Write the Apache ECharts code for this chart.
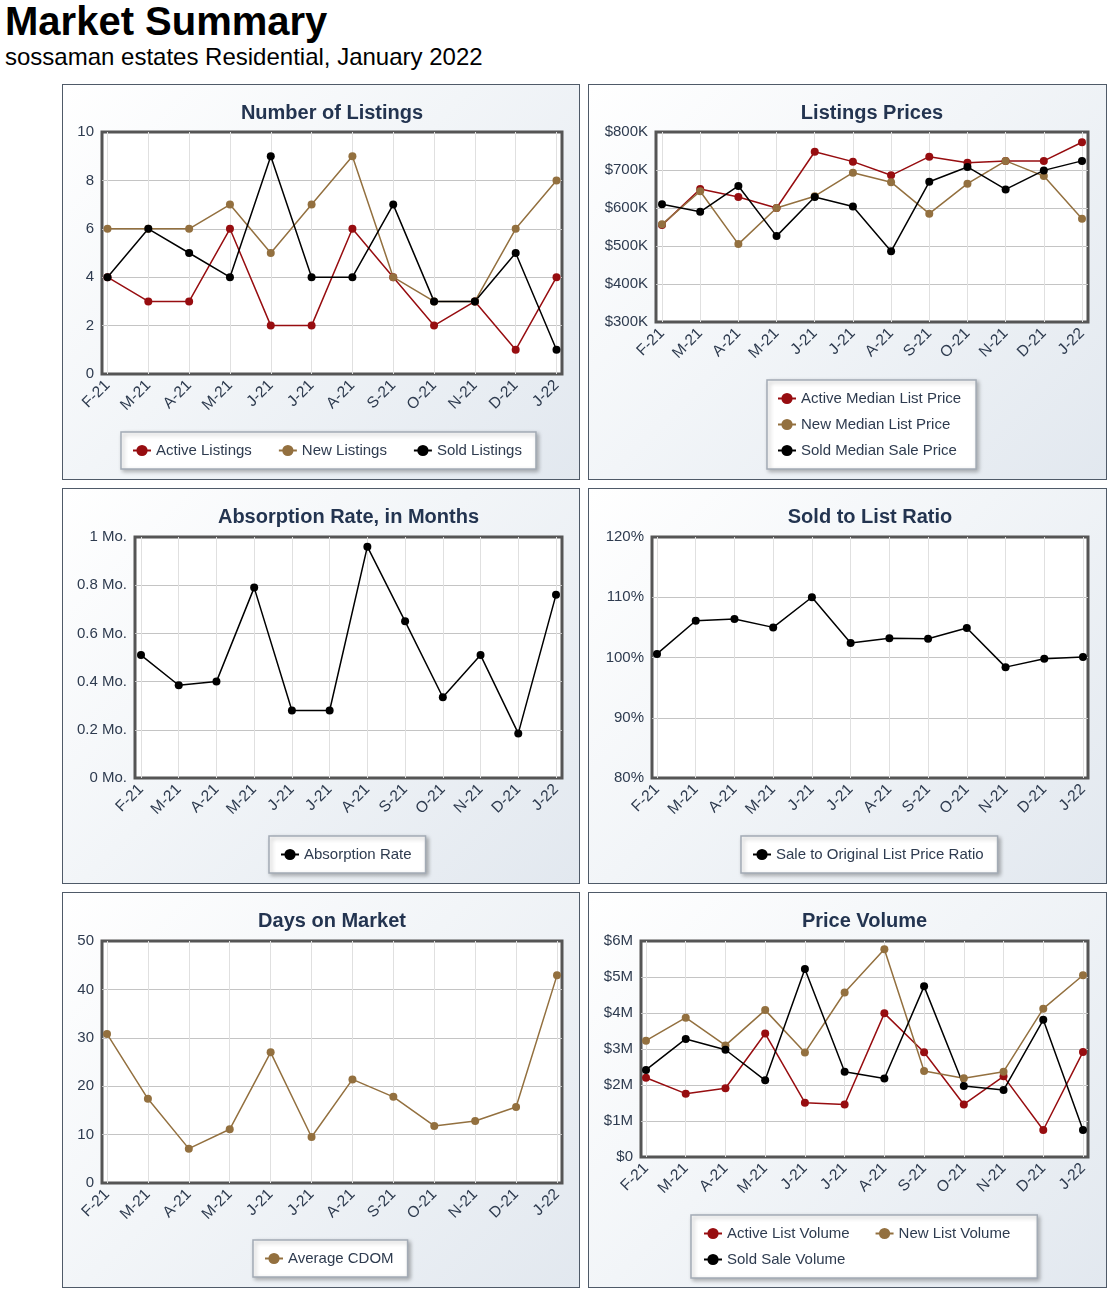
<!DOCTYPE html>
<html>
<head>
<meta charset="utf-8">
<script src="https://cdn.jsdelivr.net/npm/echarts@6/dist/echarts.min.js"></script>
<style>
  html, body { margin: 0; padding: 0; background: #ffffff; }
  body { width: 1115px; height: 1295px; position: relative; overflow: hidden;
         font-family: "Liberation Sans", Arial, Helvetica, sans-serif; }
  #pageTitle { position: absolute; left: 5px; top: 1px; font-size: 40px; line-height: 40px;
               font-weight: bold; color: #000; white-space: nowrap; }
  #pageSub { position: absolute; left: 5px; top: 45px; font-size: 24px; line-height: 24px;
             color: #000; white-space: nowrap; }
  .panel { position: absolute; box-sizing: border-box; border: 1px solid #4f5a68;
           background: linear-gradient(135deg, #ffffff 0%, #f2f5f8 45%, #e2e8ef 100%); }
  .chart { position: absolute; left: -1px; top: -1px; }
</style>
</head>
<body>
<div id="pageTitle">Market Summary</div>
<div id="pageSub">sossaman estates Residential, January 2022</div>

<div class="panel" style="left:62px;top:84px;width:518px;height:396px;"><div id="c1" class="chart" style="width:518px;height:396px;"></div></div>
<div class="panel" style="left:588px;top:84px;width:519px;height:396px;"><div id="c2" class="chart" style="width:519px;height:396px;"></div></div>
<div class="panel" style="left:62px;top:488px;width:518px;height:396px;"><div id="c3" class="chart" style="width:518px;height:396px;"></div></div>
<div class="panel" style="left:588px;top:488px;width:519px;height:396px;"><div id="c4" class="chart" style="width:519px;height:396px;"></div></div>
<div class="panel" style="left:62px;top:892px;width:518px;height:396px;"><div id="c5" class="chart" style="width:518px;height:396px;"></div></div>
<div class="panel" style="left:588px;top:892px;width:519px;height:396px;"><div id="c6" class="chart" style="width:519px;height:396px;"></div></div>

<script>
// ---------------- DATA ----------------
const categories = ['F-21','M-21','A-21','M-21','J-21','J-21','A-21','S-21','O-21','N-21','D-21','J-22'];

// Number of Listings
const activeListings = [4, 3, 3, 6, 2, 2, 6, 4, 2, 3, 1, 4];
const newListings    = [6, 6, 6, 7, 5, 7, 9, 4, 3, 3, 6, 8];
const soldListings   = [4, 6, 5, 4, 9, 4, 4, 7, 3, 3, 5, 1];

// Listings Prices (dollars)
const activeMedianListPrice = [555000, 650000, 629000, 600000, 748000, 722000, 686000, 735000, 719000, 724000, 724000, 773000];
const newMedianListPrice    = [557000, 644000, 505000, 600000, 631000, 693000, 668000, 585000, 664000, 724000, 684000, 572000];
const soldMedianSalePrice   = [610000, 590000, 658000, 526000, 629000, 604000, 486000, 669000, 708000, 649000, 699000, 724000];

// Absorption Rate (months)
const absorptionRate = [0.51, 0.385, 0.40, 0.79, 0.28, 0.28, 0.96, 0.65, 0.335, 0.51, 0.185, 0.76];

// Sold to List Ratio (%)
const saleToOriginalListRatio = [100.6, 106.1, 106.4, 105.0, 110.0, 102.4, 103.2, 103.1, 104.9, 98.4, 99.8, 100.1];

// Days on Market
const averageCDOM = [30.8, 17.4, 7.1, 11.1, 27.0, 9.5, 21.4, 17.8, 11.8, 12.8, 15.7, 42.9];

// Price Volume (dollars)
const activeListVolume = [2200000, 1760000, 1910000, 3430000, 1510000, 1460000, 3990000, 2910000, 1460000, 2240000, 750000, 2920000];
const newListVolume    = [3230000, 3870000, 3100000, 4080000, 2900000, 4570000, 5770000, 2390000, 2190000, 2370000, 4120000, 5050000];
const soldSaleVolume   = [2420000, 3280000, 2980000, 2130000, 5220000, 2370000, 2180000, 4740000, 1970000, 1860000, 3810000, 750000];

// Axis ranges
const listingsAxis   = { min: 0, max: 10, interval: 2 };
const pricesAxis     = { min: 300000, max: 800000, interval: 100000 };
const absorptionAxis = { min: 0, max: 1, interval: 0.2 };
const ratioAxis      = { min: 80, max: 120, interval: 10 };
const domAxis        = { min: 0, max: 50, interval: 10 };
const volumeAxis     = { min: 0, max: 6000000, interval: 1000000 };

// ---------------- STYLE ----------------
const FONT = '"Liberation Sans", Arial, Helvetica, sans-serif';
const RED = '#970d10';
const TAN = '#93703f';
const BLACK = '#000000';
const AXIS_TEXT = '#2e3b4f';
const TITLE_TEXT = '#233450';

function fmtNum(v) { return String(Math.round(v * 1000) / 1000); }

function legendBase(extra) {
  return Object.assign({
    orient: 'horizontal',
    itemWidth: 18, itemHeight: 14, itemGap: 26,
    padding: [11, 14, 11, 11],
    backgroundColor: '#ffffff',
    borderColor: '#a3abb5', borderWidth: 1.5,
    shadowBlur: 4, shadowOffsetX: 2, shadowOffsetY: 2, shadowColor: 'rgba(0,0,0,0.28)',
    textStyle: { fontSize: 15, color: AXIS_TEXT, fontFamily: FONT },
    selectedMode: false
  }, extra || {});
}

function buildOption(c) {
  const f = c.frame;
  const legends = c.legends || [legendBase(Object.assign({ left: c.legendLeft, top: c.legendTop }, c.legend || {}))];
  return {
    animation: false,
    textStyle: { fontFamily: FONT },
    title: {
      text: c.title, left: c.titleX, top: 19, textAlign: 'center', padding: 0,
      textStyle: { fontSize: 20, fontWeight: 'bold', color: TITLE_TEXT, fontFamily: FONT }
    },
    legend: legends,
    grid: [
      { left: f.l, top: f.t, right: f.r, bottom: f.b, show: true, backgroundColor: '#ffffff',
        borderColor: '#555555', borderWidth: 3, containLabel: false },
      { left: f.l + c.pad, top: f.t, right: f.r + c.pad, bottom: f.b, containLabel: false }
    ],
    xAxis: [
      { gridIndex: 0, type: 'value', min: 0, max: 1, show: false },
      { gridIndex: 1, type: 'category', data: categories, boundaryGap: false, z: 1,
        axisLine: { show: false }, axisTick: { show: false },
        splitLine: { show: true, lineStyle: { color: '#e0e0e0', width: 1 } },
        axisLabel: { rotate: 45, interval: 0, margin: 9, fontSize: 15.5, color: AXIS_TEXT, fontFamily: FONT } }
    ],
    yAxis: [
      { gridIndex: 0, type: 'value', min: c.y.min, max: c.y.max, interval: c.y.interval, z: 1,
        axisLine: { show: false }, axisTick: { show: false },
        axisLabel: { formatter: c.y.fmt, margin: 8, fontSize: 15, color: AXIS_TEXT, fontFamily: FONT },
        splitLine: { show: true, showMinLine: false, showMaxLine: false, lineStyle: { color: '#c4c4c4', width: 1 } } },
      { gridIndex: 1, type: 'value', min: c.y.min, max: c.y.max, interval: c.y.interval, show: false,
        splitLine: { show: false } }
    ],
    series: c.series.map(s => ({
      type: 'line', name: s.name, data: s.data,
      xAxisIndex: 1, yAxisIndex: 1,
      symbol: 'circle', symbolSize: 8, showSymbol: true,
      color: s.color,
      lineStyle: { width: 1.5, color: s.color },
      itemStyle: { color: s.color }
    }))
  };
}

const panels = [
  { id: 'c1', title: 'Number of Listings', titleX: 270, pad: 5.5,
    frame: { l: 40, t: 48, r: 18, b: 106 },
    y: Object.assign({ fmt: v => fmtNum(v) }, listingsAxis),
    legendLeft: 59, legendTop: 348,
    series: [
      { name: 'Active Listings', data: activeListings, color: RED },
      { name: 'New Listings', data: newListings, color: TAN },
      { name: 'Sold Listings', data: soldListings, color: BLACK }
    ] },
  { id: 'c2', title: 'Listings Prices', titleX: 284, pad: 6,
    frame: { l: 68, t: 48, r: 19, b: 158 },
    y: Object.assign({ fmt: v => '$' + fmtNum(v / 1000) + 'K' }, pricesAxis),
    legendLeft: 179, legendTop: 296,
    legend: { orient: 'vertical', itemGap: 11, padding: [11, 15, 11, 10] },
    series: [
      { name: 'Active Median List Price', data: activeMedianListPrice, color: RED },
      { name: 'New Median List Price', data: newMedianListPrice, color: TAN },
      { name: 'Sold Median Sale Price', data: soldMedianSalePrice, color: BLACK }
    ] },
  { id: 'c3', title: 'Absorption Rate, in Months', titleX: 286.5, pad: 6,
    frame: { l: 73, t: 49, r: 18, b: 106 },
    y: Object.assign({ fmt: v => fmtNum(v) + ' Mo.' }, absorptionAxis),
    legendLeft: 207, legendTop: 348,
    series: [
      { name: 'Absorption Rate', data: absorptionRate, color: BLACK }
    ] },
  { id: 'c4', title: 'Sold to List Ratio', titleX: 282, pad: 5,
    frame: { l: 64, t: 49, r: 19, b: 106 },
    y: Object.assign({ fmt: v => fmtNum(v) + '%' }, ratioAxis),
    legendLeft: 153, legendTop: 348,
    series: [
      { name: 'Sale to Original List Price Ratio', data: saleToOriginalListRatio, color: BLACK }
    ] },
  { id: 'c5', title: 'Days on Market', titleX: 270, pad: 5,
    frame: { l: 40, t: 49, r: 18, b: 105 },
    y: Object.assign({ fmt: v => fmtNum(v) }, domAxis),
    legendLeft: 191, legendTop: 348,
    series: [
      { name: 'Average CDOM', data: averageCDOM, color: TAN }
    ] },
  { id: 'c6', title: 'Price Volume', titleX: 276.5, pad: 5,
    frame: { l: 53, t: 49, r: 19, b: 131 },
    y: Object.assign({ fmt: v => v === 0 ? '$0' : '$' + fmtNum(v / 1000000) + 'M' }, volumeAxis),
    legends: [
      legendBase({ left: 103, top: 323, itemGap: 25, padding: [11, 27, 37, 12],
                   data: ['Active List Volume', 'New List Volume'] }),
      legendBase({ left: 103, top: 349, padding: [11, 14, 11, 12],
                   backgroundColor: 'transparent', borderWidth: 0, shadowBlur: 0,
                   shadowOffsetX: 0, shadowOffsetY: 0, shadowColor: 'transparent',
                   data: ['Sold Sale Volume'] })
    ],
    series: [
      { name: 'Active List Volume', data: activeListVolume, color: RED },
      { name: 'New List Volume', data: newListVolume, color: TAN },
      { name: 'Sold Sale Volume', data: soldSaleVolume, color: BLACK }
    ] }
];

panels.forEach(p => {
  const chart = echarts.init(document.getElementById(p.id), null, { renderer: 'canvas' });
  chart.setOption(buildOption(p));
});
</script>
</body>
</html>
